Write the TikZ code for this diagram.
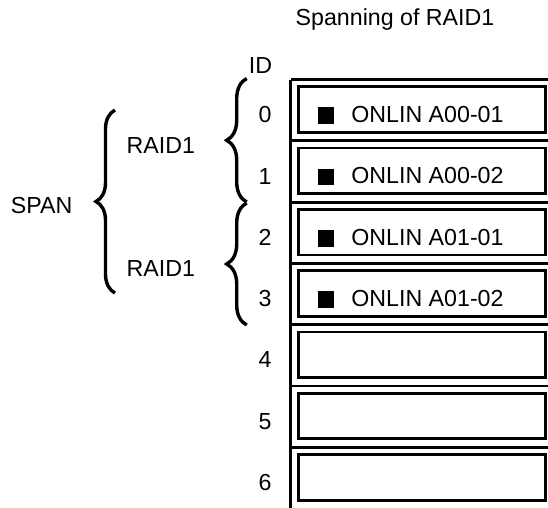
\documentclass[tikz,border=0pt]{standalone}
\usepackage{fontspec}
\setmainfont{Liberation Sans}
\usetikzlibrary{decorations.pathreplacing}
\begin{document}
\begin{tikzpicture}[x=1pt, y=-1pt, line width=2.8pt,
  every node/.style={font=\fontsize{23.2}{28}\selectfont, inner sep=0pt},
  disk/.style={draw, minimum width=247pt, minimum height=45.6pt},
  bullet/.style={fill=black, minimum size=16.5pt},
  curly/.style={decorate, decoration={brace, amplitude=#1}, line width=3.4pt}]
  \useasboundingbox (0,0) rectangle (548,507);

  % title
  \node[anchor=base] (title) at (395,25) {Spanning of RAID1};

  % frame and slots
  \draw (290.7,79.5) -- (290.7,510);
  \foreach \i in {0,...,6} {
    \draw (290.7,79.5+61.3*\i) -- (552,79.5+61.3*\i);
    \node[disk] (disk\i) at (422.2,109.5+61.3*\i) {};
    \node[anchor=base] (id\i) at (265,122.7+61.3*\i) {\i};
  }
  \node[anchor=base] (idlabel) at (260.5,73) {ID};

  % drive states
  \foreach \i/\lbl in {0/A00-01,1/A00-02,2/A01-01,3/A01-02} {
    \node[bullet] (led\i) at (326,115.7+61.3*\i) {};
    \node[anchor=base west] (stat\i) at (350,122.5+61.3*\i) {ONLIN \lbl};
  }

  % braces
  \draw[curly=20pt] (246.7,202) -- (246.7,78.5);
  \draw[curly=20pt] (246.7,325) -- (246.7,203);
  \draw[curly=19pt] (115,293) -- (115,110);
  \node[anchor=base] (raidA) at (160.8,153.3) {RAID1};
  \node[anchor=base] (raidB) at (160.8,276.7) {RAID1};
  \node[anchor=base] (span) at (41.7,213) {SPAN};
\end{tikzpicture}
\end{document}
